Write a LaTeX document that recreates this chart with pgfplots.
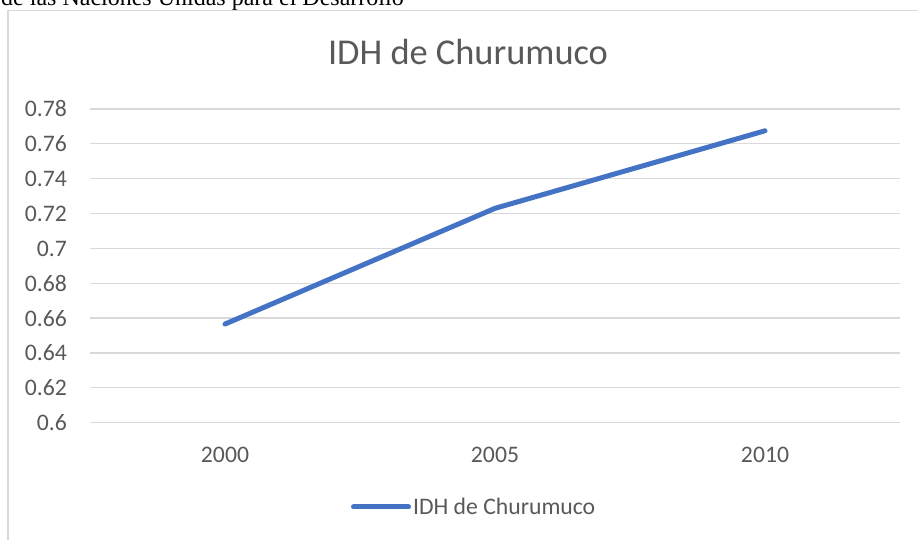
\documentclass[border=0pt]{standalone}
\usepackage{fontspec}
\setmainfont{Carlito}
\newfontfamily\notefont{Liberation Serif}
\usepackage{pgfplots}
\pgfplotsset{compat=1.18}
\definecolor{serie}{HTML}{4472C4}
\definecolor{rejilla}{HTML}{D9D9D9}
\definecolor{texto}{HTML}{595959}

\begin{document}
\begin{tikzpicture}
\useasboundingbox (0pt,0pt) rectangle (918pt,540pt);
\clip (0pt,0pt) rectangle (918pt,540pt);

% texto del documento cortado arriba
\node[anchor=base west, inner sep=0pt, font=\notefont\fontsize{24}{28}\selectfont]
  at (1pt,534pt) {de las Naciones Unidas para el Desarrollo};

% marco del grafico
\draw[rejilla, line width=1.2pt] (8pt,-5pt) -- (8pt,529.5pt) -- (930pt,529.5pt);

% titulo
\node[anchor=base, inner sep=0pt, text=texto, font=\fontsize{36.4}{40}\selectfont]
  at (468pt,475pt) {IDH de Churumuco};

\begin{axis}[
    at={(90pt,117.3pt)}, anchor=south west,
    scale only axis,
    width=810pt, height=313.7pt,
    xmin=-0.5, xmax=2.5,
    ymin=0.6, ymax=0.78,
    xtick={0,1,2},
    xticklabels={2000,2005,2010},
    ytick={0.6,0.62,0.64,0.66,0.68,0.7,0.72,0.74,0.76,0.78},
    yticklabels={0.6,0.62,0.64,0.66,0.68,0.7,0.72,0.74,0.76,0.78},
    /pgf/number format/assume math mode=true,
    axis line style={draw=none},
    major tick length=0pt,
    tick style={draw=none},
    ymajorgrids,
    major grid style={rejilla, line width=1.3pt},
    ticklabel style={text=texto, font=\fontsize{23.7}{28}\selectfont, inner sep=0pt},
    yticklabel style={anchor=east, xshift=-23pt},
    xticklabel style={anchor=north, yshift=-24pt},
    legend style={
        at={(axis description cs:0.322,-0.2687)}, anchor=west,
        draw=none, fill=none, inner sep=0pt,
        nodes={inner sep=0pt, text=texto, font=\fontsize{23.7}{28}\selectfont},
    },
    legend image code/.code={\draw[#1, line cap=round] (0pt,0pt) -- (55pt,0pt);},
    legend cell align=left,
    clip=false,
]
\addplot[serie, line width=5pt, line cap=round, line join=round, mark=none]
  coordinates {(0,0.6566) (1,0.7230) (2,0.7675)};
\addlegendentry{\hspace{2pt}IDH de Churumuco}
\end{axis}
\end{tikzpicture}
\end{document}
